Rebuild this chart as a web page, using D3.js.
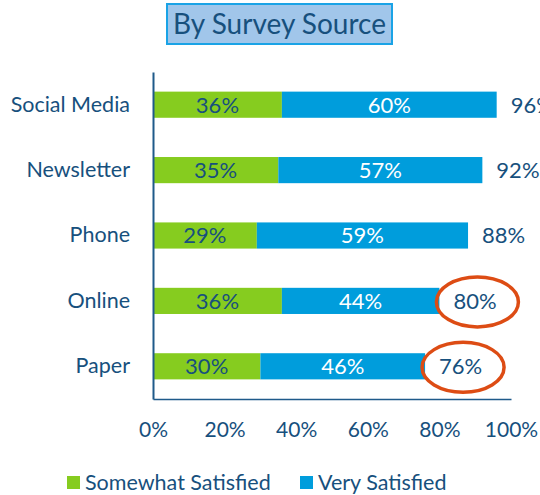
<!DOCTYPE html>
<html>
<head>
<meta charset="utf-8">
<script src="https://cdn.jsdelivr.net/npm/d3@7"></script>
<style>
  body { margin: 0; background: #fff; }
  text { font-family: Lato, "Open Sans", sans-serif; }
</style>
</head>
<body>
<div id="chart"></div>
<script>
const categories = ["Social Media", "Newsletter", "Phone", "Online", "Paper"];
const somewhat = [36, 35, 29, 36, 30];
const very = [60, 57, 59, 44, 46];
const totals = [96, 92, 88, 80, 76];
const circled = ["Online", "Paper"];
const ticks = [0, 20, 40, 60, 80, 100];

const W = 540, H = 495;
const margin = { top: 72, right: 29, bottom: 96, left: 153 };
const width = W - margin.left - margin.right;
const height = H - margin.top - margin.bottom;

const textColor = "#17507d";
const green = "#86cc1f";
const blue = "#009ddc";

const svg = d3.select("#chart").append("svg")
  .attr("width", W).attr("height", H);

// title box
const title = svg.append("g");
title.append("rect")
  .attr("x", 167).attr("y", 4).attr("width", 225).attr("height", 40)
  .attr("fill", "#a1c6ea").attr("stroke", "#1aa3e6").attr("stroke-width", 2);
title.append("text")
  .attr("x", 279.5).attr("y", 33.5).attr("text-anchor", "middle")
  .attr("font-size", 28).attr("fill", textColor)
  .text("By Survey Source");

const g = svg.append("g")
  .attr("transform", `translate(${margin.left},${margin.top})`);

const x = d3.scaleLinear().domain([0, 100]).range([0, width]);
const y = d3.scaleBand().domain(categories).range([0, height])
  .paddingInner(0.6).paddingOuter(0.3);

const rows = categories.map((c, i) => ({
  cat: c, s: somewhat[i], v: very[i], t: totals[i]
}));

// green segments
g.selectAll(".s").data(rows).enter().append("rect")
  .attr("x", x(0)).attr("y", d => y(d.cat))
  .attr("width", d => x(d.s) - x(0)).attr("height", y.bandwidth())
  .attr("fill", green);

// blue segments
g.selectAll(".v").data(rows).enter().append("rect")
  .attr("x", d => x(d.s)).attr("y", d => y(d.cat))
  .attr("width", d => x(d.s + d.v) - x(d.s)).attr("height", y.bandwidth())
  .attr("fill", blue);

// segment labels
g.selectAll(".sl").data(rows).enter().append("text")
  .attr("x", d => x(d.s / 2)).attr("y", d => y(d.cat) + y.bandwidth() / 2)
  .attr("dy", "0.36em").attr("text-anchor", "middle")
  .attr("font-size", 22).attr("fill", textColor)
  .text(d => d.s + "%");

g.selectAll(".vl").data(rows).enter().append("text")
  .attr("x", d => x(d.s + d.v / 2)).attr("y", d => y(d.cat) + y.bandwidth() / 2)
  .attr("dy", "0.36em").attr("text-anchor", "middle")
  .attr("font-size", 22).attr("fill", "#fff")
  .text(d => d.v + "%");

// totals
g.selectAll(".tl").data(rows).enter().append("text")
  .attr("x", d => x(d.s + d.v) + 14).attr("y", d => y(d.cat) + y.bandwidth() / 2)
  .attr("dy", "0.36em")
  .attr("font-size", 22).attr("fill", textColor)
  .text(d => d.t + "%");

// circles around totals
g.selectAll(".ring").data(rows.filter(d => circled.includes(d.cat))).enter()
  .append("ellipse")
  .attr("cx", d => x(d.s + d.v) + 38)
  .attr("cy", d => y(d.cat) + y.bandwidth() / 2 + 1)
  .attr("rx", 41).attr("ry", 25)
  .attr("fill", "none").attr("stroke", "#dd4c14").attr("stroke-width", 3.5);

// axes
const yAxis = g.append("g").call(d3.axisLeft(y).tickSize(0).tickPadding(23));
yAxis.select(".domain").attr("stroke", "#1f5a8a").attr("stroke-width", 2);
yAxis.selectAll("text").attr("font-size", 21.5).attr("fill", textColor)
  .attr("font-family", "Lato, sans-serif");

const xAxis = g.append("g").attr("transform", `translate(0,${height})`)
  .call(d3.axisBottom(x).tickValues(ticks).tickSize(0).tickPadding(23)
    .tickFormat(d => d + "%"));
xAxis.select(".domain").attr("stroke", "#1f5a8a").attr("stroke-width", 1.5);
xAxis.selectAll("text").attr("font-size", 21).attr("fill", textColor)
  .attr("font-family", "Lato, sans-serif");

// legend
const legendItems = [
  { label: "Somewhat Satisfied", color: green, x: 67 },
  { label: "Very Satisfied", color: blue, x: 300 }
];
const legend = svg.append("g").attr("transform", "translate(0,476)");
legend.selectAll("rect").data(legendItems).enter().append("rect")
  .attr("x", d => d.x).attr("y", 0).attr("width", 13).attr("height", 13)
  .attr("fill", d => d.color);
legend.selectAll("text").data(legendItems).enter().append("text")
  .attr("x", d => d.x + 18).attr("y", 6.5).attr("dy", "0.36em")
  .attr("font-size", 21.5).attr("fill", textColor)
  .text(d => d.label);
</script>
</body>
</html>
